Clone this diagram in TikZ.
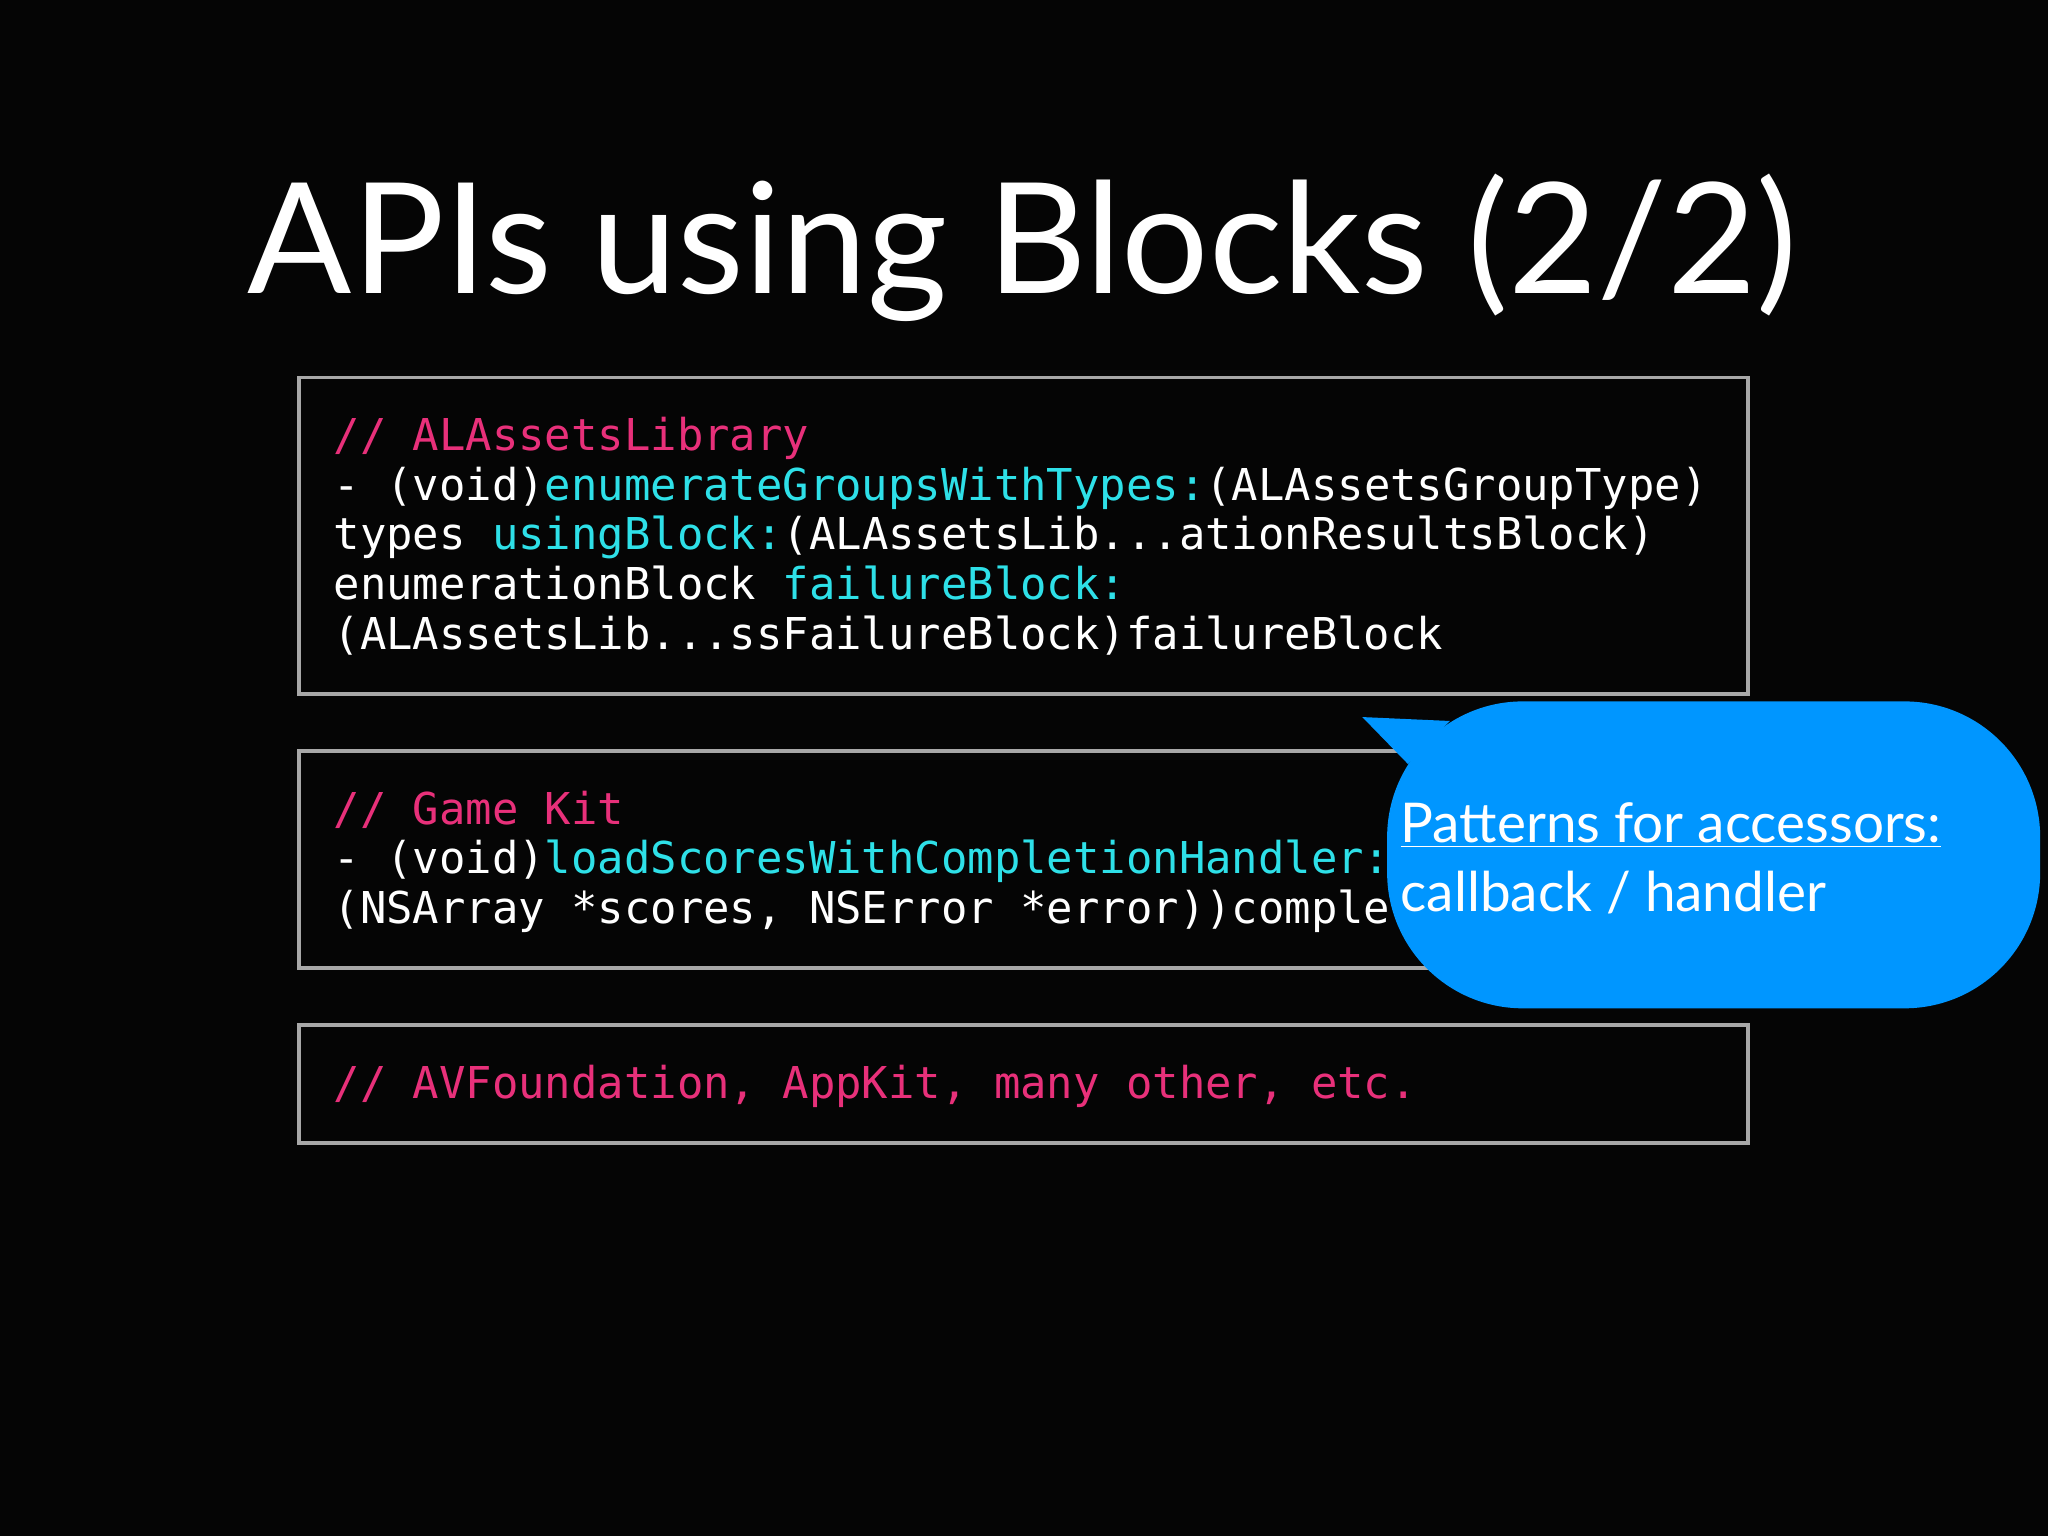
\documentclass[tikz,border=0pt]{standalone}
\usepackage{fontspec}
\setmainfont{Lato}
\setmonofont{DejaVu Sans Mono}
\definecolor{pk}{HTML}{E8307A}
\definecolor{cy}{HTML}{2EE0E8}
\definecolor{bl}{HTML}{0096FF}
\definecolor{bx}{HTML}{A8A8A8}
\begin{document}
\begin{tikzpicture}[x=0.5pt,y=-0.5pt,
  codebox/.style={draw=bx,line width=1.5pt},
  code/.style={anchor=base west,inner sep=0,text=white,font=\ttfamily\fontsize{16.8}{19}\selectfont},
  bub/.style={anchor=base west,inner sep=0,text=white,font=\fontsize{21}{25}\selectfont}]
\fill[black!98] (0,0) rectangle (1568,1176);
\useasboundingbox (0,0) rectangle (1568,1176);
\node[anchor=base,inner sep=0,text=white,font=\fontsize{59}{63}\selectfont] (title) at (783,225) {APIs using Blocks (2/2)};
\draw[codebox] (229,289) rectangle (1338,531);
\draw[codebox] (229,575) rectangle (1338,741);
\draw[codebox] (229,785) rectangle (1338,875);
\node[code] (a1) at (255,345) {\textcolor{pk}{// ALAssetsLibrary}};
\node[code] (a2) at (255,383) {- (void)\textcolor{cy}{enumerateGroupsWithTypes:}(ALAssetsGroupType)};
\node[code] (a3) at (255,421) {types \textcolor{cy}{usingBlock:}(ALAssetsLib...ationResultsBlock)};
\node[code] (a4) at (255,459) {enumerationBlock \textcolor{cy}{failureBlock:}};
\node[code] (a5) at (255,497) {(ALAssetsLib...ssFailureBlock)failureBlock};
\node[code] (b1) at (255,631) {\textcolor{pk}{// Game Kit}};
\node[code] (b2) at (255,669) {- (void)\textcolor{cy}{loadScoresWithCompletionHandler:}};
\node[code] (b3) at (255,707) {(NSArray *scores, NSError *error))comple};
\node[code] (c1) at (255,841) {\textcolor{pk}{// AVFoundation, AppKit, many other, etc.}};
\fill[bl] (1043,549) -- (1110,552) -- (1078,585) -- cycle;
\fill[bl,rounded corners=52pt] (1062,537) rectangle (1562,772);
\node[bub] (p1) at (1072,645) {\underline{Patterns for accessors:}};
\node[bub] (p2) at (1072,698) {callback / handler};
\end{tikzpicture}
\end{document}
